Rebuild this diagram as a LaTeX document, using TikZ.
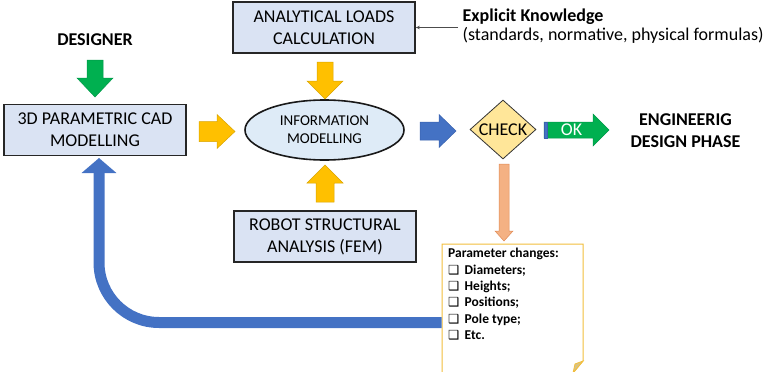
\documentclass[tikz,border=0pt]{standalone}
\usepackage{fontspec}
\setmainfont{Carlito}
\newfontfamily\dejavu{DejaVu Sans}
\usetikzlibrary{shapes.geometric,arrows.meta}
\definecolor{boxblue}{HTML}{DAE3F3}
\definecolor{ellblue}{HTML}{DEEBF7}
\definecolor{ayellow}{HTML}{FFC000}
\definecolor{ayellowd}{HTML}{D9A400}
\definecolor{agreen}{HTML}{00B050}
\definecolor{agreend}{HTML}{00984A}
\definecolor{ablue}{HTML}{4472C4}
\definecolor{ablued}{HTML}{3A62AE}
\definecolor{aorange}{HTML}{F4B183}
\definecolor{aoranged}{HTML}{E08A55}
\definecolor{dyellow}{HTML}{FFE699}
\definecolor{notegold}{HTML}{F2BE3C}
\newcommand\blockarr[8]{%
  \begin{scope}[shift={#2},rotate=#3]
    \coordinate (#1) at (0,0);
    \filldraw[#8] ({-(#4)/2},{-(#5)}) -- ({(#4)/2-(#7)},{-(#5)}) -- ({(#4)/2-(#7)},{-(#6)}) -- ({(#4)/2},0) -- ({(#4)/2-(#7)},{#6}) -- ({(#4)/2-(#7)},{#5}) -- ({-(#4)/2},{#5}) -- cycle;
  \end{scope}}
\tikzset{
  box/.style={draw=black!85, line width=1.6pt, fill=boxblue, minimum width=182pt, minimum height=51pt, align=center, inner sep=0pt, font=\fontsize{18}{22}\selectfont},
  bigtxt/.style={font=\fontsize{18}{22}\selectfont\bfseries, align=center, inner sep=0pt},
  yarr/.style={fill=ayellow, draw=ayellowd, line width=0.5pt},
  garr/.style={fill=agreen, draw=agreend, line width=0.5pt},
  barr/.style={fill=ablue, draw=ablued, line width=0.5pt},
  oarr/.style={fill=aorange, draw=aoranged, line width=0.5pt},
  itemtxt/.style={font=\fontsize{13.5}{16.4}\selectfont\bfseries, anchor=base west, inner sep=0pt},
}
\newcommand\chk{\makebox[16.5pt][l]{\dejavu\fontsize{12.5}{12.5}\selectfont ❑}}
\begin{document}
\begin{tikzpicture}[x=1pt,y=-1pt]
\useasboundingbox (0,0) rectangle (772,372);
% boxes
\node[box] (cad) at (95,130) {3D PARAMETRIC CAD\\MODELLING};
\node[box] (ana) at (324,27.5) {ANALYTICAL LOADS\\CALCULATION};
\node[box] (rob) at (325,236.5) {ROBOT STRUCTURAL\\ANALYSIS (FEM)};
\node[ellipse, draw=black!90, line width=1.6pt, fill=ellblue, minimum width=159pt, minimum height=60pt, inner sep=0pt, align=center, font=\fontsize{15}{18}\selectfont] (info) at (324.5,130) {INFORMATION\\MODELLING};
\node[diamond, draw=black!80, line width=0.8pt, fill=dyellow, minimum width=66pt, minimum height=59pt, inner sep=0pt] (check) at (503,129.5) {};
\node[font=\fontsize{18}{22}\selectfont, inner sep=0pt] (checkt) at (check.center) {CHECK};
% texts
\node[bigtxt] (des) at (95,40) {DESIGNER};
\node[bigtxt] (eng) at (685.5,131) {ENGINEERIG\\DESIGN PHASE};
\node[font=\fontsize{18}{22}\selectfont\bfseries, anchor=base west, inner sep=0pt] (ek) at (462.5,21) {Explicit Knowledge};
\node[font=\fontsize{18}{22}\selectfont, anchor=base west, inner sep=0pt] (ek2) at (462.5,40) {(standards, normative, physical formulas)};
\coordinate (ekpt) at (458,27.5);
\draw[black!70, line width=0.7pt, -{Stealth[length=4pt,width=3.5pt]}] (ekpt) -- (ana.east);
% block arrows
\blockarr{gdn}{(95,78.5)}{-90}{37}{8}{18}{19}{garr}
\blockarr{yr}{(217,131.5)}{0}{36}{10}{17}{18}{yarr}
\blockarr{ydn}{(325,80.5)}{-90}{37}{8}{18}{18}{yarr}
\blockarr{yup}{(325,183.5)}{90}{37}{9}{18}{18}{yarr}
\blockarr{br}{(438,131)}{0}{36}{9}{16.5}{17}{barr}
\blockarr{ok}{(576.5,130)}{0}{65}{8}{16}{16}{garr}
\fill[ablue] (544,122) rectangle (547.5,138);
\draw[ablued, line width=0.5pt] (544,122) rectangle (547.5,138);
\node[text=white, font=\fontsize{18}{22}\selectfont, inner sep=0pt] (okt) at (571.5,130) {OK};
\blockarr{odn}{(504,202.5)}{-90}{77}{5}{9}{10}{oarr}
% note
\coordinate (nw) at (442,244);
\draw[notegold, line width=1pt, fill=white] (442,373) -- (nw) -- (583,244) -- (583,361) -- (573,373);
\filldraw[fill=black!15!dyellow, draw=notegold, line width=0.8pt] (583,361) -- (575,364) -- (573,373) -- cycle;
\node[itemtxt] (pc) at (448,257.5) {Parameter changes:};
\node[itemtxt] (i1) at (448,274) {\chk Diameters;};
\node[itemtxt] (i2) at (448,290.4) {\chk Heights;};
\node[itemtxt] (i3) at (448,306.8) {\chk Positions;};
\node[itemtxt] (i4) at (448,323.2) {\chk Pole type;};
\node[itemtxt] (i5) at (448,339.6) {\chk Etc.};
% return arrow
\coordinate (rs) at (441.5,322.5);
\coordinate (rt) at (99,158);
\draw[ablue, line width=11pt, rounded corners=60pt, -{Triangle[width=34pt,length=15pt]}] (rs) -| (rt);
\end{tikzpicture}
\end{document}
